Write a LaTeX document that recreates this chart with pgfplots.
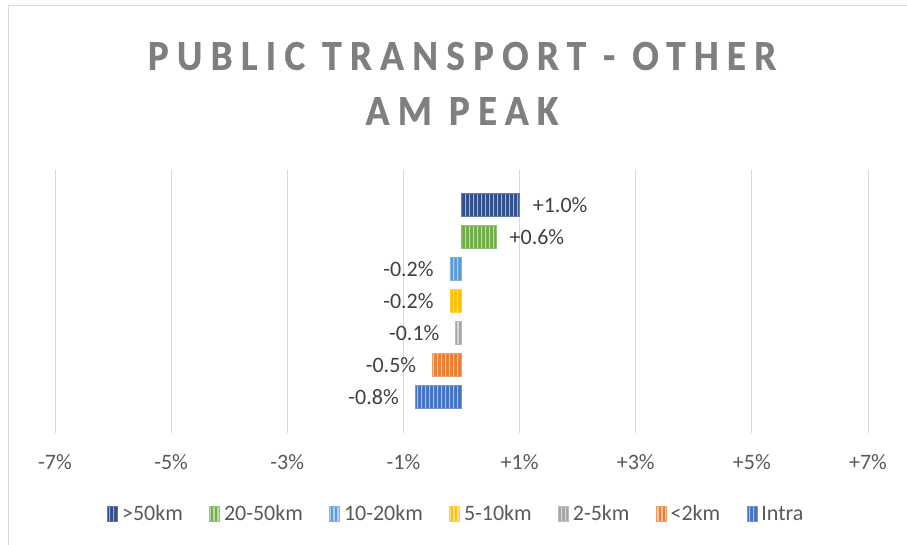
\documentclass[border=0pt]{standalone}
\usepackage{pgfplots}
\pgfplotsset{compat=1.18}
\usetikzlibrary{patterns}
\usepackage{fontspec}
\setmainfont{Carlito}
\newfontfamily\titlefont[FakeStretch=0.92, LetterSpace=19.5, FakeBold=0.8]{Carlito Bold}
\definecolor{cA}{HTML}{2F4F8A}
\definecolor{cB}{HTML}{70AD47}
\definecolor{cC}{HTML}{5B9BD5}
\definecolor{cD}{HTML}{FFC000}
\definecolor{cE}{HTML}{A5A5A5}
\definecolor{cF}{HTML}{ED7D31}
\definecolor{cG}{HTML}{4472C4}
\definecolor{titlegray}{HTML}{7F7F7F}
\definecolor{labgray}{HTML}{404040}
\definecolor{tickgray}{HTML}{595959}
\definecolor{gridgray}{HTML}{D9D9D9}
\pgfdeclarepatternformonly{vstripes}{\pgfqpoint{0pt}{0pt}}{\pgfqpoint{4pt}{200pt}}{\pgfqpoint{4pt}{200pt}}{%
  \pgfpathrectangle{\pgfqpoint{1.4pt}{0pt}}{\pgfqpoint{1.2pt}{200pt}}\pgfusepath{fill}}
\tikzset{
  bstyle/.style={fill=#1, draw=#1!75!white, line width=0.6pt,
    postaction={pattern=vstripes, pattern color=#1!45!white}},
}
\begin{document}
\begin{tikzpicture}
\path[use as bounding box] (0,0) rectangle (907pt,545pt);
\draw[gridgray, line width=1pt] (8pt,0pt) -- (8pt,539pt) -- (907pt,539pt);
\node[text=titlegray, font=\titlefont\fontsize{42.5}{48}\selectfont] at (462pt,489pt) {PUBLIC TRANSPORT - OTHER};
\node[text=titlegray, font=\titlefont\fontsize{42.5}{48}\selectfont] at (462pt,434pt) {AM PEAK};
\begin{axis}[
  at={(55pt,112pt)}, anchor=south west,
  scale only axis, width=813pt, height=263pt,
  xmin=-7, xmax=7, ymin=-1.125, ymax=7.094,
  xbar, bar width=23pt, bar shift=0pt,
  xtick={-7,-5,-3,-1,1,3,5,7},
  xticklabels={-7\%,-5\%,-3\%,-1\%,+1\%,+3\%,+5\%,+7\%},
  ytick=\empty,
  axis line style={draw=none},
  major tick style={draw=none},
  xmajorgrids, grid style={gridgray, line width=1pt},
  x tick label style={font=\fontsize{22}{26}\selectfont, text=tickgray, anchor=base, yshift=-37pt},
  legend image code/.code={\fill[#1] (0pt,-7pt) rectangle (10pt,8pt);},
  legend style={at={(0.495,-0.308)}, anchor=center, legend columns=-1, draw=none,
    font=\fontsize{22}{26}\selectfont, text=tickgray,
    nodes={inner xsep=4pt, inner ysep=0pt},
    /tikz/every even column/.append style={column sep=22.5pt}},
  nodes near coords style={font=\fontsize{22}{26}\selectfont, text=labgray, inner sep=0pt},
]
\addplot[bstyle=cA, nodes near coords={+1.0\%}, every node near coord/.append style={anchor=west, xshift=13pt}] coordinates {(1.0,6)};
\addplot[bstyle=cB, nodes near coords={+0.6\%}, every node near coord/.append style={anchor=west, xshift=13pt}] coordinates {(0.6,5)};
\addplot[bstyle=cC, nodes near coords={-0.2\%}, every node near coord/.append style={anchor=east, xshift=-16pt}] coordinates {(-0.2,4)};
\addplot[bstyle=cD, nodes near coords={-0.2\%}, every node near coord/.append style={anchor=east, xshift=-16pt}] coordinates {(-0.2,3)};
\addplot[bstyle=cE, nodes near coords={-0.1\%}, every node near coord/.append style={anchor=east, xshift=-16pt}] coordinates {(-0.1,2)};
\addplot[bstyle=cF, nodes near coords={-0.5\%}, every node near coord/.append style={anchor=east, xshift=-16pt}] coordinates {(-0.5,1)};
\addplot[bstyle=cG, nodes near coords={-0.8\%}, every node near coord/.append style={anchor=east, xshift=-16pt}] coordinates {(-0.8,0)};
\legend{>50km,20-50km,10-20km,5-10km,2-5km,<2km,Intra}
\end{axis}
\end{tikzpicture}
\end{document}
